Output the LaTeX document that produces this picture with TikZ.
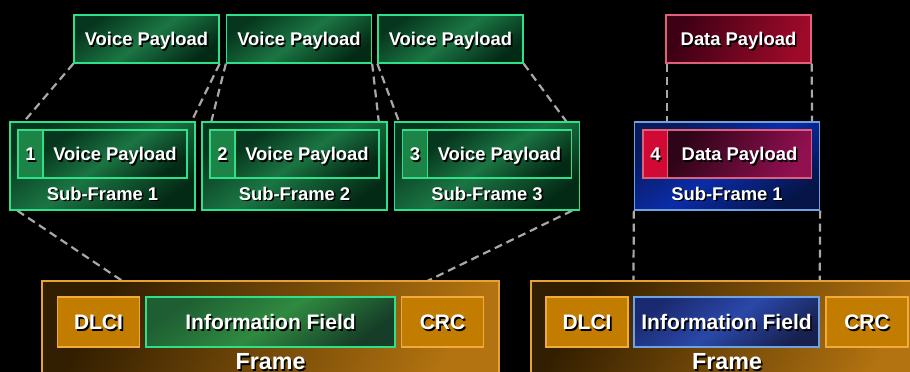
\documentclass[tikz,border=0pt]{standalone}
\usepackage{fontspec}
\setmainfont{Liberation Sans}
\usetikzlibrary{calc}

% palette
\definecolor{grnline}{HTML}{2FE08A}
\definecolor{grnA}{HTML}{06361D}
\definecolor{grnB}{HTML}{1B7543}
\definecolor{grnC}{HTML}{032A15}
\definecolor{grnNum}{HTML}{1C8446}
\definecolor{infA}{HTML}{1E5E32}
\definecolor{infB}{HTML}{2F8A40}
\definecolor{infC}{HTML}{163D28}
\definecolor{frmline}{HTML}{E6A233}
\definecolor{frmA}{HTML}{321E00}
\definecolor{frmB}{HTML}{B37310}
\definecolor{fldfill}{HTML}{C27D00}
\definecolor{fldline}{HTML}{F2AA3A}
\definecolor{redline}{HTML}{E0607A}
\definecolor{redA}{HTML}{3D0014}
\definecolor{redB}{HTML}{9E0A2A}
\definecolor{redNum}{HTML}{D10A35}
\definecolor{magA}{HTML}{2E0418}
\definecolor{magB}{HTML}{901050}
\definecolor{bluline}{HTML}{6FA2E0}
\definecolor{bluA}{HTML}{0A1A5A}
\definecolor{bluB}{HTML}{0A2CA8}
\definecolor{bluC}{HTML}{061448}
\definecolor{infbA}{HTML}{1A2A70}
\definecolor{infbB}{HTML}{2A48A8}
\definecolor{infbC}{HTML}{182050}
\definecolor{dashgray}{HTML}{A8A8A8}

% white bold text with a dark drop shadow
\newcommand\shtxt[1]{\leavevmode\rlap{\kern1.6pt\raisebox{-1.6pt}{\textcolor{black}{#1}}}#1}

\pgfdeclarelayer{canvas}
\pgfdeclarelayer{links}
\pgfsetlayers{canvas,links,main}

\begin{document}
\begin{tikzpicture}[x=1pt,y=-1pt,
  % text boxes sized to the capital height so capitals sit centred
  small/.style={font=\bfseries\fontsize{18.4}{20}\selectfont,
                text height=13.2pt, text depth=0pt},
  large/.style={font=\bfseries\fontsize{21}{24}\selectfont,
                text height=15pt, text depth=0pt},
  box/.style={inner sep=0pt, line width=1.3pt, text=white, small},
  grnbox/.style={box, draw=grnline, top color=grnA, bottom color=grnC,
                 middle color=grnB, shading angle=35},
  grnnum/.style={box, draw=grnline, fill=grnNum},
  redbox/.style={box, draw=redline, top color=redA, bottom color=redB,
                 shading angle=70},
  rednum/.style={box, draw=redline, fill=redNum},
  magbox/.style={box, draw=redline, top color=magA, bottom color=magB,
                 shading angle=60},
  blubox/.style={box, draw=bluline, top color=bluA, bottom color=bluC,
                 middle color=bluB, shading angle=35},
  frmbox/.style={box, draw=frmline, top color=frmA, bottom color=frmB,
                 shading angle=60},
  fld/.style={box, large, minimum width=82pt, minimum height=50pt},
  fldbox/.style={fld, draw=fldline, fill=fldfill},
  infgrn/.style={fld, draw=grnline, top color=infA, bottom color=infC,
                 middle color=infB, shading angle=35},
  infblu/.style={fld, draw=bluline, top color=infbA, bottom color=infbC,
                 middle color=infbB, shading angle=35},
  payload/.style={minimum width=145pt, minimum height=48pt},
  sub/.style={minimum width=185pt, minimum height=88pt},
  numbox/.style={minimum width=25pt, minimum height=48pt},
  inpay/.style={minimum width=144pt, minimum height=48pt},
  lbl/.style={text=white, inner sep=0pt, small},
  frmlbl/.style={text=white, inner sep=0pt,
                 font=\bfseries\fontsize{23.3}{26}\selectfont,
                 text height=16.7pt, text depth=0pt},
  link/.style={draw=dashgray, line width=2.2pt, dash pattern=on 8pt off 5pt}
]
\useasboundingbox (0,0) rectangle (910,372);
\begin{pgfonlayer}{canvas}
  \fill[black] (0,0) rectangle (910,372);
\end{pgfonlayer}
\clip (0,0) rectangle (910,372);

% ---- frames (bottom row)
\node[frmbox, minimum width=457pt, minimum height=110pt] (frm1) at (270.5,336) {};
\node[fldbox]  (dlci1) at (98.5,322)  {\shtxt{DLCI}};
\node[infgrn, minimum width=249pt] (info1) at (270.5,322) {\shtxt{Information Field}};
\node[fldbox]  (crc1)  at (442.5,322) {\shtxt{CRC}};
\node[frmlbl]  (flab1) at (270.5,361.5) {\shtxt{Frame}};

\node[frmbox, minimum width=392pt, minimum height=110pt] (frm2) at (727,336) {};
\node[fldbox]  (dlci2) at (587,322)  {\shtxt{DLCI}};
\node[infblu, minimum width=185pt] (info2) at (726.5,322) {\shtxt{Information Field}};
\node[fldbox]  (crc2)  at (867,322)  {\shtxt{CRC}};
\node[frmlbl]  (flab2) at (727,361.5)  {\shtxt{Frame}};

% ---- sub-frames: outer box, number cell, payload cell
\node[grnbox, sub] (sf1) at (102.5,166) {};
\node[grnnum, numbox] (num1) at (30.5,154) {\shtxt{1}};
\node[grnbox, inpay]  (pay1) at (115,154)  {\shtxt{Voice Payload}};
\node[lbl] (sl1) at (102.5,193.5) {\shtxt{Sub-Frame 1}};

\node[grnbox, sub] (sf2) at (294.5,166) {};
\node[grnnum, numbox] (num2) at (222.5,154) {\shtxt{2}};
\node[grnbox, inpay]  (pay2) at (307,154)   {\shtxt{Voice Payload}};
\node[lbl] (sl2) at (294.5,193.5) {\shtxt{Sub-Frame 2}};

\node[grnbox, sub] (sf3) at (487,166) {};
\node[grnnum, numbox] (num3) at (415,154) {\shtxt{3}};
\node[grnbox, inpay]  (pay3) at (499.5,154) {\shtxt{Voice Payload}};
\node[lbl] (sl3) at (487,193.5) {\shtxt{Sub-Frame 3}};

\node[blubox, sub] (sfd) at (727,166) {};
\node[rednum, numbox] (numd) at (655.5,154) {\shtxt{4}};
\node[magbox, inpay]  (payd) at (739.5,154) {\shtxt{Data Payload}};
\node[lbl] (sld) at (727,193.5) {\shtxt{Sub-Frame 1}};

% ---- payloads (top row)
\node[grnbox, payload] (vp1) at (146.5,39) {\shtxt{Voice Payload}};
\node[grnbox, payload] (vp2) at (299,39)   {\shtxt{Voice Payload}};
\node[grnbox, payload] (vp3) at (450.5,39) {\shtxt{Voice Payload}};
\node[redbox, payload] (dp)  at (738.5,39) {\shtxt{Data Payload}};

% ---- dashed mapping lines, kept behind the boxes
\begin{pgfonlayer}{links}
  \draw[link] (vp1.south west) -- (num1.north west);
  \draw[link] (vp1.south east) -- (pay1.north east);
  \draw[link] (vp2.south west) -- (num2.north west);
  \draw[link] (vp2.south east) -- (pay2.north east);
  \draw[link] (vp3.south west) -- (num3.north west);
  \draw[link] (vp3.south east) -- (pay3.north east);
  \draw[link] (payd.west |- dp.south) -- (payd.north west);
  \draw[link] (dp.south east) -- (payd.north east);
  \draw[link] (num1.west |- sf1.south) -- (info1.north west);
  \draw[link] (pay3.east |- sf3.south) -- (info1.north east);
  \draw[link] (sfd.south west) -- (info2.north west);
  \draw[link] (sfd.south east) -- (info2.north east);
\end{pgfonlayer}
\end{tikzpicture}
\end{document}
